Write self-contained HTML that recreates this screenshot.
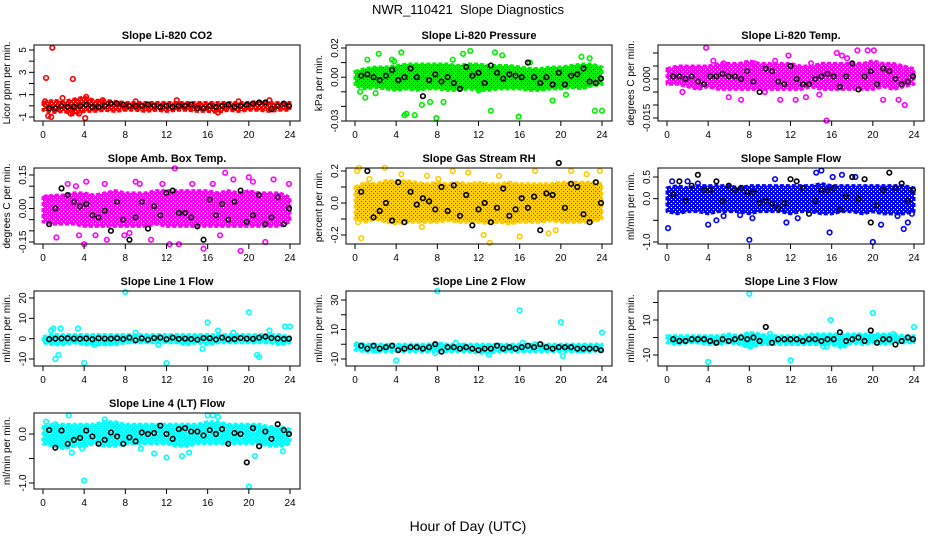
<!DOCTYPE html>
<html><head><meta charset="utf-8"><style>
body{margin:0;background:#fff}
svg{display:block;font-family:"Liberation Sans",sans-serif}
</style></head><body>
<svg id="chart" width="936" height="540" viewBox="0 0 936 540">
<defs id="defs"></defs>
<text x="468" y="14" text-anchor="middle" font-size="13">NWR_110421&#160; Slope Diagnostics</text>
<text x="468" y="531" text-anchor="middle" font-size="14">Hour of Day (UTC)</text>
</svg>
<script>
const bandHours=[0,1,2,3,4,5,6,7,8,9,10,11,12,13,14,15,16,17,18,19,20,21,22,23,24];
const blackHours=[0.6,1.2,1.8,2.4,3.0,3.6,4.2,4.8,5.4,6.0,6.6,7.2,7.8,8.4,9.0,9.6,10.2,10.8,11.4,12.0,12.6,13.2,13.8,14.4,15.0,15.6,16.2,16.8,17.4,18.0,18.6,19.2,19.8,20.4,21.0,21.6,22.2,22.8,23.4,23.9];
const xTicks=[0,4,8,12,16,20,24];

const co2Lo=[-0.4,-0.6,-0.5,-0.8,-0.5,-0.5,-0.4,-0.5,-0.4,-0.4,-0.5,-0.4,-0.5,-0.4,-0.4,-0.5,-0.5,-0.6,-0.4,-0.5,-0.4,-0.4,-0.5,-0.4,-0.4];
const co2Hi=[0.3,0.5,0.4,0.6,0.8,0.5,0.5,0.4,0.3,0.3,0.3,0.3,0.3,0.3,0.3,0.3,0.3,0.3,0.3,0.3,0.3,0.4,0.3,0.3,0.3];
const co2Black=[-0.2,-0.2,0,-0.1,-0.1,0,0.1,-0.1,-0.1,0,0.2,0.2,0.1,0,0,0,0.1,0,-0.1,0,-0.1,0,0,0.1,-0.2,-0.2,0,-0.1,0,0.1,-0.1,0,0.1,0.2,0.3,0.3,-0.3,0,0.2,0];
const co2SX=[0.9,0.3,2.9,0.5,0.8,4.1,2.7,1.9,4.2,5.8,17,0.2,3.5,9,13,19,22];
const co2SY=[5.2,2.5,2.4,-0.9,-1.0,-1.1,-0.7,0.7,0.8,0.5,-0.6,0.4,-0.7,0.4,0.5,0.4,0.5];

const presLo=[-0.006,-0.008,-0.007,-0.008,-0.009,-0.008,-0.009,-0.008,-0.008,-0.009,-0.009,-0.008,-0.009,-0.009,-0.008,-0.008,-0.008,-0.009,-0.009,-0.008,-0.008,-0.007,-0.008,-0.006,-0.005];
const presHi=[0.004,0.006,0.007,0.007,0.008,0.009,0.009,0.009,0.009,0.009,0.008,0.009,0.009,0.008,0.008,0.008,0.007,0.006,0.006,0.007,0.007,0.008,0.009,0.009,0.007];
const presBlack=[0.001,0.002,0.000,-0.002,0.001,0.005,-0.002,0.000,0.006,0.000,-0.013,-0.002,0.002,-0.003,0.000,-0.004,-0.008,0.007,0.001,0.003,-0.004,0.008,0.003,-0.001,0.002,0.001,0.000,0.010,0.000,-0.004,0.000,-0.005,0.003,-0.005,0.001,0.002,0.006,-0.003,-0.004,-0.001];
const presSX=[0.5,1.0,1.2,2.3,3.6,4.5,4.8,5.0,5.8,6.5,7.3,7.9,8.6,9.5,10.5,11.2,12.0,13.2,13.6,14.3,15.9,17.0,19.2,20.5,22.0,22.8,23.3,24.0,3.8,2.0];
const presSY=[-0.010,-0.014,0.012,0.016,0.012,0.017,-0.026,-0.025,-0.026,-0.019,-0.017,-0.028,-0.017,0.012,0.016,0.018,-0.009,-0.023,0.017,0.015,-0.027,0.010,-0.016,-0.012,0.014,0.013,-0.023,-0.023,0.011,-0.011];

const tempLo=[-0.002,-0.002,-0.003,-0.004,-0.003,-0.004,-0.004,-0.004,-0.004,-0.004,-0.004,-0.004,-0.004,-0.004,-0.003,-0.004,-0.004,-0.004,-0.004,-0.004,-0.004,-0.003,-0.004,-0.003,-0.002];
const tempHi=[0.004,0.005,0.005,0.005,0.005,0.006,0.006,0.006,0.007,0.006,0.006,0.006,0.006,0.005,0.005,0.006,0.006,0.006,0.006,0.006,0.007,0.006,0.006,0.005,0.004];
const tempBlack=[0.001,0.001,0.000,0.001,-0.001,-0.002,0.001,0.001,0.002,0.001,0.001,0.000,0.003,-0.001,-0.005,0.004,0.003,-0.001,-0.002,0.005,0.000,-0.002,-0.002,0.000,0.001,0.002,0.001,-0.003,0.001,0.006,-0.004,0.001,0.003,-0.002,0.004,0.003,0.000,-0.002,-0.001,0.001];
const tempSX=[3.8,4.5,5.5,7.2,8.5,9.5,10.5,11.0,12.5,13.5,14.0,15.5,16.5,17.0,18.5,19.5,20.1,21.0,22.5,23.1,6.0,1.5,2.5,11.8,14.8,17.5];
const tempSY=[0.012,0.007,0.006,-0.008,0.006,-0.005,0.007,-0.008,-0.008,-0.007,0.006,-0.016,0.010,0.009,0.011,0.011,0.011,-0.008,-0.008,-0.010,-0.007,-0.005,0.004,0.009,-0.006,0.008];

const ambLo=[-0.06,-0.07,-0.07,-0.07,-0.08,-0.08,-0.08,-0.08,-0.08,-0.08,-0.08,-0.07,-0.08,-0.08,-0.08,-0.08,-0.08,-0.08,-0.08,-0.08,-0.08,-0.08,-0.08,-0.08,-0.06];
const ambHi=[0.05,0.06,0.06,0.07,0.07,0.06,0.07,0.08,0.07,0.07,0.07,0.08,0.08,0.08,0.08,0.08,0.08,0.07,0.08,0.07,0.08,0.07,0.07,0.07,0.05];
const ambBlack=[-0.07,0.00,0.09,0.06,0.03,0.01,0.02,-0.03,-0.04,-0.01,-0.10,0.03,-0.05,-0.14,-0.04,0.03,-0.09,0.01,-0.03,0.07,0.08,-0.02,-0.02,-0.04,-0.08,-0.14,0.04,-0.03,0.02,-0.05,0.03,0.08,-0.06,-0.03,0.06,-0.07,-0.04,0.05,-0.07,0.00];
const ambSX=[0.3,1.3,2.4,3.2,4.0,4.2,5.1,6.0,6.2,7.9,9.0,9.4,10.5,11.6,12.3,12.8,13.2,14.5,15.6,16.5,17.7,18.5,19.2,20.4,21.6,22.4,23.9,3.5,8.4,17.2,20.0];
const ambSY=[0.05,-0.13,0.11,0.10,-0.16,0.12,-0.12,0.11,-0.14,-0.12,0.12,0.11,-0.14,0.11,-0.16,0.18,-0.16,0.11,-0.18,0.11,0.16,0.13,-0.19,0.12,-0.15,0.13,0.11,-0.12,-0.11,-0.12,0.14];

const rhLo=[-0.10,-0.12,-0.10,-0.12,-0.13,-0.12,-0.12,-0.12,-0.12,-0.11,-0.12,-0.12,-0.12,-0.13,-0.12,-0.13,-0.12,-0.12,-0.12,-0.11,-0.12,-0.12,-0.12,-0.12,-0.10];
const rhHi=[0.10,0.13,0.12,0.14,0.14,0.14,0.13,0.12,0.13,0.12,0.13,0.12,0.13,0.12,0.12,0.13,0.12,0.12,0.12,0.12,0.13,0.13,0.13,0.13,0.12];
const rhBlack=[0.07,0.20,-0.09,-0.05,0.00,-0.11,0.13,-0.12,0.07,-0.01,0.03,0.01,-0.04,0.10,-0.05,0.11,-0.08,0.05,-0.14,-0.04,0.00,-0.12,-0.03,0.09,-0.08,-0.04,0.03,-0.03,0.04,-0.17,0.06,0.05,0.25,-0.03,0.12,0.10,-0.07,-0.12,0.13,0.00];
const rhSX=[0.4,0.6,1.4,2.9,0.3,4.5,6.5,7.0,8.1,9.5,11.0,12.5,13.1,14.0,16.0,17.5,19.5,21.0,22.5,23.8,0.2,18.8];
const rhSY=[0.22,-0.22,0.15,0.22,-0.12,0.18,-0.15,0.17,0.15,0.20,0.19,-0.20,-0.25,0.17,-0.21,0.20,-0.17,0.20,0.18,0.20,0.20,-0.19];

const flowLo=[-0.3,-0.35,-0.3,-0.3,-0.35,-0.3,-0.3,-0.3,-0.35,-0.3,-0.3,-0.3,-0.35,-0.3,-0.3,-0.35,-0.35,-0.3,-0.3,-0.35,-0.3,-0.35,-0.35,-0.35,-0.3];
const flowHi=[0.25,0.3,0.25,0.3,0.3,0.3,0.3,0.25,0.3,0.3,0.3,0.3,0.3,0.3,0.3,0.35,0.3,0.3,0.3,0.3,0.3,0.3,0.3,0.3,0.25];
const flowBlack=[0.1,0.4,-0.05,0.3,0.55,0.2,0.2,0.4,-0.05,0.3,0.2,0.25,0.15,0.15,-0.1,-0.05,-0.12,-0.22,-0.1,0.45,0.4,0.25,-0.35,-0.05,0.2,0.2,0.25,-0.25,0.05,0.5,0.0,0.45,-0.55,-0.15,0.2,0.6,0.25,0.35,-0.05,0.2];
const flowSX=[0.1,0.5,2.0,4.0,4.8,5.5,8.0,8.3,11.6,12.7,14.5,15.0,15.8,16.1,17.0,18.3,20.0,20.8,22.4,23.0,23.4,23.8,3.0,10.5,7.1];
const flowSY=[-0.68,0.4,0.4,-0.6,-0.5,-0.4,-0.95,-0.45,-0.55,-0.45,0.6,0.65,-0.78,0.5,0.55,0.5,-1.0,-0.6,-0.4,-0.7,-0.55,-0.35,0.35,0.45,-0.38];

const l1Lo=[-2,-3,-3,-2,-3,-3,-3,-3,-2,-2,-2,-2,-2,-2,-3,-2,-3,-2,-2,-2,-2,-2,-2,-3,-2];
const l1Hi=[1,2,2,2,2,2,2,2,2,2,2,2,2,2,2,2,2,2,2,2,2,2,2,2,1];
const l1Black=[-0.3,0,0.1,0.2,0,-0.1,0.1,-0.3,0.2,0,0,0.2,-0.2,0.5,-0.8,0.2,-0.5,0.3,0.5,-0.3,0.5,-0.1,0,-0.2,-0.5,0.3,0.2,-0.4,0.5,-0.3,-0.2,0.3,0,-0.1,0.5,1,0.3,0.1,-0.2,0];
const l1SX=[8,20,16,1.2,1.5,4,12,20.8,21,23.5,24,0.8,1,3.4,1.7,15.5,17,18.5,22,11.2,5,9];
const l1SY=[23,13,8,-10,-8,-12,-12,-8,-9,6,6,4,5,5,5,-5,4,3,4,-3,-3,3];

const l2Lo=[-4,-5,-5,-5,-5,-5,-5,-5,-5,-5,-5,-5,-6,-6,-5,-5,-5,-5,-5,-5,-5,-5,-5,-5,-4];
const l2Hi=[1,0,0,0,0,0,0,0,1,0,0,0,0,0,0,0,0,0,0,0,0,0,0,0,0];
const l2Black=[-1,-3,-1,-3,-2,-1,-4,-3,-2,-2,-3,-2,0,-5,-2,-2,-3,-2,-3,-4,-3,-3,-1,-3,-2,-3,-2,-1,-2,0,-2,-3,-2,-2,-2,-3,-3,-3,-3,-4];
const l2SX=[8,16,20,4,20.2,24,7.8,13,16.3,17.5,22,2,10.5,9.8];
const l2SY=[36,23,15,-11,-8,8,-6,-7,1,0,-4,-4,-1,1];

const l3Lo=[-3,-4,-3,-3,-4,-4,-3,-4,-6,-4,-4,-4,-4,-4,-4,-4,-4,-6,-3,-4,-3,-4,-3,-3,-3];
const l3Hi=[1,1,1,1,1,1,2,1,3,2,1,1,1,1,2,2,2,2,2,2,2,2,2,1,1];
const l3Black=[-1,-2,-2,-1,-1,-1,-2,-3,-1,-2,-1,0,-1,0,-2,6,-3,-1,-1,-1,-1,-2,-1,-1,-2,-1,-1,3,-2,-1,0,-2,4,-3,-1,-1,-4,-2,0,-1];
const l3SX=[8,4,12,15.9,20,24,8.1,15.2,15.5,10,13.2,22];
const l3SY=[25,-14,-13,10,14,6,-5,-5,-5,2,-2,2];

const l4Lo=[-0.2,-0.25,-0.3,-0.25,-0.25,-0.2,-0.25,-0.25,-0.2,-0.2,-0.2,-0.2,-0.2,-0.25,-0.25,-0.2,-0.2,-0.2,-0.2,-0.2,-0.2,-0.2,-0.25,-0.25,-0.2];
const l4Hi=[0.15,0.2,0.2,0.2,0.2,0.2,0.25,0.25,0.2,0.2,0.2,0.2,0.2,0.2,0.2,0.2,0.25,0.25,0.2,0.2,0.2,0.2,0.15,0.15,0.1];
const l4Black=[0.08,-0.28,0.07,-0.2,-0.12,-0.08,0.07,-0.05,-0.2,-0.12,0.03,-0.05,-0.2,-0.07,-0.15,0.03,0.0,0.02,0.17,0.0,-0.1,0.1,0.12,0.05,0.05,-0.03,0.08,0.0,0.1,-0.2,0.02,0.0,-0.58,0.12,-0.25,0.05,-0.1,0.2,0.08,0.0];
const l4SX=[4,20,0.3,2.5,2.8,6,12,10.8,13.5,14.2,16,16.5,17,20.6,23.3,1.2,9.5,3.8];
const l4SY=[-0.95,-1.07,0.25,0.38,-0.38,0.3,-0.48,-0.4,-0.45,-0.38,0.38,0.38,0.35,-0.45,-0.35,0.2,-0.3,-0.3];

const panels=[
 {name:'co2',title:'Slope Li-820 CO2',ylab:'Licor ppm per min.',col:0,row:0,color:'#ff0000',dot:'#ffffff',v1:5,p1:50,v2:-1,p2:117,ticks:[-1,0,1,2,3,4,5],labels:['-1','1','3','5'],lo:co2Lo,hi:co2Hi,blk:co2Black,sx:co2SX,sy:co2SY},
 {name:'pressure',title:'Slope Li-820 Pressure',ylab:'kPa per min.',col:1,row:0,color:'#00ee00',dot:'#006600',v1:0.02,p1:48,v2:-0.03,p2:121,ticks:[0.02,0.01,0,-0.01,-0.02,-0.03],labels:['0.02','0.00','-0.03'],lo:presLo,hi:presHi,blk:presBlack,sx:presSX,sy:presSY},
 {name:'temp',title:'Slope Li-820 Temp.',ylab:'degrees C per min.',col:2,row:0,color:'#ff00ff',dot:'#ffffff',v1:0.010,p1:53,v2:-0.015,p2:118,ticks:[0.01,0.005,0,-0.005,-0.01,-0.015],labels:['0.000','-0.015'],lo:tempLo,hi:tempHi,blk:tempBlack,sx:tempSX,sy:tempSY},
 {name:'amb-box-temp',title:'Slope Amb. Box Temp.',ylab:'degrees C per min.',col:0,row:1,color:'#ff00ff',dot:'#ffffff',v1:0.15,p1:175,v2:-0.15,p2:242,ticks:[0.15,0.1,0.05,0,-0.05,-0.1,-0.15],labels:['0.15','0.00','-0.15'],lo:ambLo,hi:ambHi,blk:ambBlack,sx:ambSX,sy:ambSY},
 {name:'gas-rh',title:'Slope Gas Stream RH',ylab:'percent per min.',col:1,row:1,color:'#ffcc00',dot:'#ff2200',v1:0.2,p1:171,v2:-0.2,p2:235,ticks:[0.2,0.1,0,-0.1,-0.2],labels:['0.2','0.0','-0.2'],lo:rhLo,hi:rhHi,blk:rhBlack,sx:rhSX,sy:rhSY},
 {name:'sample-flow',title:'Slope Sample Flow',ylab:'ml/min per min.',col:2,row:1,color:'#0000ff',dot:'#ffffff',v1:0.5,p1:177,v2:-1.0,p2:242,ticks:[0.5,0,-0.5,-1.0],labels:['0.5','0.0','-1.0'],lo:flowLo,hi:flowHi,blk:flowBlack,sx:flowSX,sy:flowSY},
 {name:'line1-flow',title:'Slope Line 1 Flow',ylab:'ml/min per min.',col:0,row:2,color:'#00ffff',dot:'#ffffff',v1:20,p1:298,v2:-10,p2:359,ticks:[20,10,0,-10],labels:['20','10','0','-10'],lo:l1Lo,hi:l1Hi,blk:l1Black,sx:l1SX,sy:l1SY},
 {name:'line2-flow',title:'Slope Line 2 Flow',ylab:'ml/min per min.',col:1,row:2,color:'#00ffff',dot:'#ffffff',v1:30,p1:300,v2:-10,p2:359,ticks:[30,20,10,0,-10],labels:['30','10','-10'],lo:l2Lo,hi:l2Hi,blk:l2Black,sx:l2SX,sy:l2SY},
 {name:'line3-flow',title:'Slope Line 3 Flow',ylab:'ml/min per min.',col:2,row:2,color:'#00ffff',dot:'#ffffff',v1:10,p1:320,v2:-10,p2:355,ticks:[20,10,0,-10],labels:['10','-10'],lo:l3Lo,hi:l3Hi,blk:l3Black,sx:l3SX,sy:l3SY},
 {name:'line4-flow',title:'Slope Line 4 (LT) Flow',ylab:'ml/min per min.',col:0,row:3,color:'#00ffff',dot:'#ffffff',v1:0,p1:434,v2:-1.0,p2:483,ticks:[0,-0.5,-1.0],labels:['0.0','-1.0'],lo:l4Lo,hi:l4Hi,blk:l4Black,sx:l4SX,sy:l4SY}
];
const NS='http://www.w3.org/2000/svg';
const svg=document.getElementById('chart');
const defs=document.getElementById('defs');
function mk(tag,attrs,parent){const e=document.createElementNS(NS,tag);for(const k in attrs)e.setAttribute(k,attrs[k]);(parent||svg).appendChild(e);return e;}
const rowTop=[45,168,291,413],rowBot=[121,244,366,489];
panels.forEach(p=>{
 const off=p.col*312;
 const bx0=34+off,bx1=300+off,by0=rowTop[p.row],by1=rowBot[p.row];
 const X=h=>43+off+h*(247/24);
 const Y=v=>p.p1+(v-p.v1)*(p.p2-p.p1)/(p.v2-p.v1);
 const pat=mk('pattern',{id:'pat-'+p.name,width:4,height:4,patternUnits:'userSpaceOnUse'},defs);
 mk('rect',{x:0,y:0,width:4,height:4,fill:p.color},pat);
 mk('rect',{x:1,y:1,width:1,height:1,fill:p.dot},pat);
 mk('rect',{x:3,y:3,width:1,height:1,fill:p.dot},pat);
 const g=mk('g',{});
 
 
 const t=mk('text',{x:(bx0+bx1)/2,y:by0-6,'text-anchor':'middle','font-size':11,'font-weight':'bold'},g);t.textContent=p.title;
 
 
 const yl=mk('text',{transform:`translate(${bx0-24},${(by0+by1)/2}) rotate(-90)`,'text-anchor':'middle','font-size':10},g);yl.textContent=p.ylab;
 
 
 let pts=bandHours.map((h,i)=>X(h)+','+Y(p.hi[i]));
 pts=pts.concat(bandHours.slice().reverse().map((h,j)=>X(h)+','+Y(p.lo[bandHours.length-1-j])));
 const band=mk('polygon',{points:pts.join(' '),fill:'url(#pat-'+p.name+')',stroke:p.color,'stroke-width':3,'stroke-dasharray':'4 2','stroke-linejoin':'round'},g);
 
 
 p.sx.forEach((h,i)=>{const c=mk('circle',{cx:X(h),cy:Y(p.sy[i]),r:2.3,fill:'none',stroke:p.color,'stroke-width':1.6},g);
  
  });
 p.blk.forEach((v,i)=>{const c=mk('circle',{cx:X(blackHours[i]),cy:Y(v),r:2.3,fill:'none',stroke:'#000','stroke-width':1.6},g);
  
  });
 const box=mk('rect',{x:bx0,y:by0,width:bx1-bx0,height:by1-by0,fill:'none',stroke:'#000','stroke-width':1},g);
 
 
 xTicks.forEach(h=>{mk('line',{x1:X(h),x2:X(h),y1:by1,y2:by1+5,stroke:'#000'},g);
  const l=mk('text',{x:X(h),y:by1+17,'text-anchor':'middle','font-size':10},g);l.textContent=h;
  
  });
 p.ticks.forEach(v=>{mk('line',{x1:bx0,x2:bx0-5,y1:Y(v),y2:Y(v),stroke:'#000'},g);});
 p.labels.forEach(s=>{const v=parseFloat(s);const l=mk('text',{transform:`translate(${bx0-8},${Y(v)}) rotate(-90)`,'text-anchor':'middle','font-size':10},g);l.textContent=s;
  
  });
});
</script>
</body></html>
